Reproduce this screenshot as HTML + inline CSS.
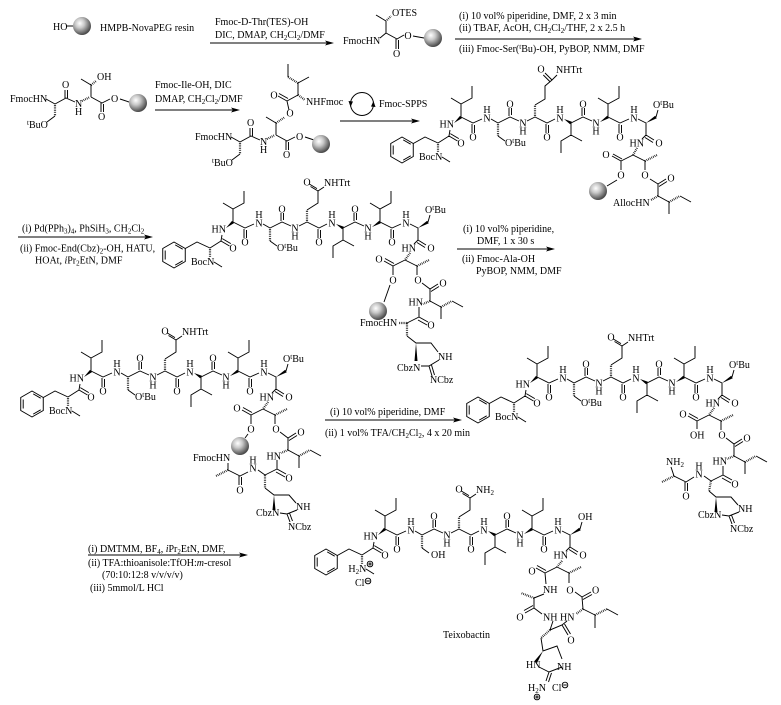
<!DOCTYPE html>
<html><head><meta charset="utf-8">
<style>
html,body{margin:0;padding:0;background:#fff;}
svg{display:block;}
text{font-family:"Liberation Serif","DejaVu Serif",serif;font-size:10px;fill:#000;}
.s,.p{font-size:7px;}
.b{stroke:#000;stroke-width:0.95;fill:none;}
.h{stroke:#000;stroke-width:2.2;stroke-dasharray:0.7 1.1;fill:none;}
.w{fill:#000;stroke:none;}
</style></head><body>
<svg width="781" height="705" viewBox="0 0 781 705" xmlns="http://www.w3.org/2000/svg">
<defs>
<radialGradient id="rg" cx="38%" cy="35%" r="65%">
<stop offset="0" stop-color="#ffffff"/><stop offset="0.4" stop-color="#c8c8c8"/><stop offset="1" stop-color="#4a4a4a"/>
</radialGradient>
<g id="ball"><circle r="9" fill="url(#rg)"/></g>
<g id="bz" class="b">
<polygon points="0,-13 11.26,-6.5 11.26,6.5 0,13 -11.26,6.5 -11.26,-6.5"/>
<path d="M1.2,-10.1 L8.7,-5.8 M8.7,5.8 L1.2,10.1 M-8.8,4.5 L-8.8,-4.5"/>
</g>
<g id="ch">
<use href="#bz" transform="translate(174,255)"/>
<path class="b" d="M185.3,248.5 L197,242 L210,248 L221,241 L222,235 M221,241 L229.5,246 M222.3,238.6 L230.8,243.6 M214,262 L222,267 M233,222 L233,209 L223,203 M233,209 L244,203 L244,191 M233,222 L245,228 L254,224 M244,229 L244,238 M246.5,230 L246.5,238 M263,224 L270,228 L282,222 L291,226 M270,241 L277,246 M281,221 L281,213 M283.5,220 L283.5,213 M299,226 L307,222 L319,228 L327,224 M318,229 L318,238 M320.5,230 L320.5,238 M343,228 L343,240 L333,246 L333,258 M343,240 L354,246 M343,228 L355,222 L364,226 M354,221 L354,213 M356.5,220 L356.5,213 M380,222 L380,209 L370,203 M380,209 L391,203 L391,191 M380,222 L392,228 L401,224 M391,229 L391,238 M393.5,230 L393.5,238 M410,224 L418,228 L418,240 L414,244 M418,240 L426,245 M417,242.5 L425,247.5 M428,222 L430,215"/>
<path class="h" d="M210,249 L210,257 M270,229 L270,241"/>
<polygon class="w" points="226,228 234,223.1 232,220.9"/>
<polygon class="w" points="336,224 342.1,229.2 343.9,226.8"/>
<polygon class="w" points="372,227 380.8,223.3 379.2,220.7"/>
<polygon class="w" points="418,228 428.8,223.3 427.2,220.7"/>
</g>
<g id="gln">
<path class="h" d="M307,221 L307,210"/>
<path class="b" d="M307,210 L318,203 L318,191 L324,187 M318,191 L310.5,186.5 M317,188.6 L309.5,184.1"/>
</g>
</defs>

<!-- ROW 1 -->
<text x="53" y="30">HO</text>
<path class="b" d="M67,26 L74,26"/>
<use href="#ball" x="82" y="26"/>
<text x="100" y="31">HMPB-NovaPEG resin</text>
<text x="215" y="25">Fmoc-D-Thr(TES)-OH</text>
<text x="215" y="38">DIC, DMAP, CH<tspan class="s" dy="2">2</tspan><tspan dy="-2">Cl</tspan><tspan class="s" dy="2">2</tspan><tspan dy="-2">/DMF</tspan></text>
<path class="b" d="M210,43 L330,43"/><polygon class="w" points="334,43 325,40.5 327,43 325,45.5"/>

<text x="343" y="44">FmocHN</text>
<path class="b" d="M376,15 L386,21 L386,33 L380,38 M386,33 L397,39 L404,35 M396,39 L396,49 M398.5,40 L398.5,49 M413,36 L424,38"/>
<path class="h" d="M387,20 L391,16"/>
<text x="392" y="16">OTES</text>
<text x="393" y="57">O</text>
<text x="404.4" y="39">O</text>
<use href="#ball" x="433" y="38"/>

<text x="459" y="19">(i) 10 vol% piperidine, DMF, 2 x 3 min</text>
<text x="459" y="31">(ii) TBAF, AcOH, CH<tspan class="s" dy="2">2</tspan><tspan dy="-2">Cl</tspan><tspan class="s" dy="2">2</tspan><tspan dy="-2">/THF, 2 x 2.5 h</tspan></text>
<path class="b" d="M455,39 L638,39"/><polygon class="w" points="642,39 633,36.5 635,39 633,41.5"/>
<text x="459" y="52">(iii) Fmoc-Ser(<tspan class="p" dy="-3">t</tspan><tspan dy="3">Bu)-OH, PyBOP, NMM, DMF</tspan></text>

<!-- ROW 2 : dipeptide -->
<text x="10" y="102">FmocHN</text>
<path class="b" d="M46,99 L55,104 L66,98 L75,102 M65,98 L65,90 M67.5,98 L67.5,90 M55,116 L47,122 M91,97 L91,85 L81,79 M91,97 L102,103 L110,99 M101,103 L101,112 M103.5,104 L103.5,112 M120,99 L129,102"/>
<path class="h" d="M55,105 L55,116 M82,101 L90,97 M91,85 L96,81"/>
<text x="62" y="88">O</text>
<text x="27" y="128"><tspan class="p" dy="-3">t</tspan><tspan dy="3">BuO</tspan></text>
<text x="75" y="107">N</text><text x="75" y="115">H</text>
<text x="97" y="80">OH</text>
<text x="98" y="120">O</text>
<text x="111" y="102">O</text>
<use href="#ball" x="138" y="103"/>

<text x="155" y="88">Fmoc-Ile-OH, DIC</text>
<text x="155" y="102">DMAP, CH<tspan class="s" dy="2">2</tspan><tspan dy="-2">Cl</tspan><tspan class="s" dy="2">2</tspan><tspan dy="-2">/DMF</tspan></text>
<path class="b" d="M155,110 L236,110"/><polygon class="w" points="240,110 231,107.5 233,110 231,112.5"/>

<!-- tripeptide -->
<g transform="translate(185,38)">
<text x="10" y="102">FmocHN</text>
<path class="b" d="M46,99 L55,104 L66,98 L75,102 M65,98 L65,90 M67.5,98 L67.5,90 M55,116 L47,122 M91,97 L91,85 L81,79 M91,97 L102,103 L110,99 M101,103 L101,112 M103.5,104 L103.5,112 M120,99 L129,102"/>
<path class="h" d="M55,105 L55,116 M82,101 L90,97"/>
<text x="62" y="88">O</text>
<text x="27" y="128"><tspan class="p" dy="-3">t</tspan><tspan dy="3">BuO</tspan></text>
<text x="75" y="107">N</text><text x="75" y="115">H</text>
<text x="98" y="120">O</text>
<text x="111" y="102">O</text>
<use href="#ball" x="136" y="106"/>
</g>
<path class="h" d="M276,123 L285,117 M298,95 L305,100 M298,83 L288,77"/>
<path class="b" d="M289,110 L287,101 L278,96 M288,98.5 L279,93.5 M287,101 L298,95 L298,83 L309,77 M288,77 L288,64"/>
<text x="286.4" y="116.5">O</text>
<text x="270.4" y="98.5">O</text>
<text x="306" y="105">NHFmoc</text>

<circle class="b" cx="362" cy="104" r="11.5"/>
<polygon class="w" points="350.5,107 348.5,101 353,101.5"/>
<polygon class="w" points="373.5,101 375.5,107 371,106.5"/>
<text x="379" y="107">Fmoc-SPPS</text>
<path class="b" d="M340,121 L416,121"/><polygon class="w" points="420,121 411,118.5 413,121 411,123.5"/>

<!-- Structure 4 (Alloc) -->
<use href="#ch" transform="translate(228,-105)"/>
<g transform="translate(228,-105)">
<text x="211.5" y="232.5">HN</text>
<text x="229.4" y="251.5">O</text>
<text x="241.4" y="245.5">O</text>
<text x="255.4" y="226.5">N</text><text x="255.4" y="218">H</text>
<text x="278.4" y="212.5">O</text>
<text x="291.4" y="231.5">N</text><text x="291.4" y="239.5">H</text>
<text x="315.4" y="245.5">O</text>
<text x="328.4" y="226.5">N</text><text x="328.4" y="218">H</text>
<text x="351.4" y="212.5">O</text>
<text x="364.4" y="231.5">N</text><text x="364.4" y="239.5">H</text>
<text x="388.4" y="245.5">O</text>
<text x="402.4" y="226.5">N</text><text x="402.4" y="218">H</text>
<text x="427.4" y="251.5">O</text>
<text x="401.5" y="251.5">HN</text>
<text x="191" y="265">BocN</text>
<text x="277" y="251">O<tspan class="p" dy="-3">t</tspan><tspan dy="3">Bu</tspan></text>
<text x="425" y="213">O<tspan class="p" dy="-3">t</tspan><tspan dy="3">Bu</tspan></text>
</g>
<path class="h" d="M535,116 L535,105"/>
<path class="b" d="M535,105 L545,99 L545,86 L552,80 L557,75 M552,80 L545,73 M550.3,82 L543.3,75"/>
<text x="537.4" y="72.5">O</text>
<text x="556" y="73">NHTrt</text>
<path class="h" d="M637,148 L633,155 M645,161 L657,155 M658,196 L651,200 M669,202 L680,196"/>
<path class="b" d="M633,155 L621,161 L612,156 M622,159 L613,154 M621,161 L621,170 M617,180 L607,186 M633,155 L645,161 L645,170 M650,179 L658,184 L666,179 M659,186.5 L667,181.5 M658,184 L658,196 L669,202 L669,214 M680,196 L691,202"/>
<text x="602.4" y="158">O</text>
<text x="617.4" y="178.5">O</text>
<use href="#ball" x="598" y="191"/>
<text x="641.4" y="178.5">O</text>
<text x="667.4" y="181.5">O</text>
<text x="613" y="206">AllocHN</text>

<!-- ROW 3 reagents left -->
<text x="22" y="231.5">(i) Pd(PPh<tspan class="s" dy="2">3</tspan><tspan dy="-2">)</tspan><tspan class="s" dy="2">4</tspan><tspan dy="-2">, PhSiH</tspan><tspan class="s" dy="2">3</tspan><tspan dy="-2">, CH</tspan><tspan class="s" dy="2">2</tspan><tspan dy="-2">Cl</tspan><tspan class="s" dy="2">2</tspan></text>
<path class="b" d="M18,237 L149,237"/><polygon class="w" points="153,237 144,234.5 146,237 144,239.5"/>
<text x="20" y="251.5">(ii) Fmoc-End(Cbz)<tspan class="s" dy="2">2</tspan><tspan dy="-2">-OH, HATU,</tspan></text>
<text x="35" y="263.5">HOAt, <tspan font-style="italic">i</tspan>Pr<tspan class="s" dy="2">2</tspan><tspan dy="-2">EtN, DMF</tspan></text>

<!-- Structure 5 -->
<use href="#ch"/><use href="#gln"/>
<g>
<text x="211.5" y="232.5">HN</text>
<text x="229.4" y="251.5">O</text>
<text x="241.4" y="245.5">O</text>
<text x="255.4" y="226.5">N</text><text x="255.4" y="218">H</text>
<text x="278.4" y="212.5">O</text>
<text x="291.4" y="231.5">N</text><text x="291.4" y="239.5">H</text>
<text x="315.4" y="245.5">O</text>
<text x="328.4" y="226.5">N</text><text x="328.4" y="218">H</text>
<text x="351.4" y="212.5">O</text>
<text x="364.4" y="231.5">N</text><text x="364.4" y="239.5">H</text>
<text x="388.4" y="245.5">O</text>
<text x="402.4" y="226.5">N</text><text x="402.4" y="218">H</text>
<text x="427.4" y="251.5">O</text>
<text x="401.5" y="251.5">HN</text>
<text x="191" y="265">BocN</text>
<text x="277" y="251">O<tspan class="p" dy="-3">t</tspan><tspan dy="3">Bu</tspan></text>
<text x="425" y="213">O<tspan class="p" dy="-3">t</tspan><tspan dy="3">Bu</tspan></text>
<text x="303.4" y="185.5">O</text>
<text x="324" y="186">NHTrt</text>
</g>
<path class="h" d="M410,253 L405,260 M417,266 L429,260 M430,301 L423,304 M441,307 L452,301 M407,323 L398,323 M407,323 L407,336"/>
<path class="b" d="M405,260 L393,266 L384,261 M394,263.5 L385,258.5 M393,266 L393,275 M390,285 L384,302 M405,260 L417,266 L417,275 M422,283 L430,289 L438,284 M431,291.5 L439,286.5 M430,289 L430,301 L441,307 L441,319 M452,301 L463,307 M419,307 L419,317 L428,322 M418,320 L427,325 M419,317 L407,323 M407,336 L416,343 L431,343 L438,352 M439,360 L429,366 L421,366 M429,366 L432,376 M431.5,365 L434.5,375"/>
<polygon class="w" points="416,343 414.5,361 417.5,361"/>
<text x="375.4" y="262.5">O</text>
<text x="389.4" y="283.5">O</text>
<use href="#ball" x="378" y="311"/>
<text x="414.4" y="283.5">O</text>
<text x="439.4" y="286.5">O</text>
<text x="408.5" y="305.5">HN</text>
<text x="427.4" y="328.5">O</text>
<text x="360" y="326">FmocHN</text>
<text x="438" y="360">NH</text>
<text x="397" y="371">CbzN</text>
<text x="430" y="383">NCbz</text>

<!-- ROW 3 reagents right -->
<text x="463" y="232">(i) 10 vol% piperidine,</text>
<text x="477" y="244">DMF, 1 x 30 s</text>
<path class="b" d="M457,249 L551,249"/><polygon class="w" points="555,249 546,246.5 548,249 546,251.5"/>
<text x="462" y="262">(ii) Fmoc-Ala-OH</text>
<text x="476" y="274">PyBOP, NMM, DMF</text>

<!-- Structure 6 -->
<use href="#ch" transform="translate(-142,149)"/>
<use href="#gln" transform="translate(-142,149)"/>
<g transform="translate(-142,149)">
<text x="211.5" y="232.5">HN</text>
<text x="229.4" y="251.5">O</text>
<text x="241.4" y="245.5">O</text>
<text x="255.4" y="226.5">N</text><text x="255.4" y="218">H</text>
<text x="278.4" y="212.5">O</text>
<text x="291.4" y="231.5">N</text><text x="291.4" y="239.5">H</text>
<text x="315.4" y="245.5">O</text>
<text x="328.4" y="226.5">N</text><text x="328.4" y="218">H</text>
<text x="351.4" y="212.5">O</text>
<text x="364.4" y="231.5">N</text><text x="364.4" y="239.5">H</text>
<text x="388.4" y="245.5">O</text>
<text x="402.4" y="226.5">N</text><text x="402.4" y="218">H</text>
<text x="427.4" y="251.5">O</text>
<text x="401.5" y="251.5">HN</text>
<text x="191" y="265">BocN</text>
<text x="277" y="251">O<tspan class="p" dy="-3">t</tspan><tspan dy="3">Bu</tspan></text>
<text x="425" y="213">O<tspan class="p" dy="-3">t</tspan><tspan dy="3">Bu</tspan></text>
<text x="303.4" y="185.5">O</text>
<text x="324" y="186">NHTrt</text>
</g>
<path class="h" d="M268,402 L263,409 M275,415 L287,409 M288,450 L281,453 M299,456 L310,450 M228,470 L216,476 M265,475 L265,488"/>
<path class="b" d="M263,409 L251,415 L242,410 M252,412.5 L243,407.5 M251,415 L251,424 M248,434 L245,438 M263,409 L275,415 L275,424 M280,432 L288,438 L296,433 M289,440.5 L297,435.5 M288,438 L288,450 L299,456 L299,468 M310,450 L321,456 M277,460 L277,469 L286,474 M276,472 L285,477 M277,469 L265,475 L258,470 M248,472 L240,476 L228,470 L228,463 M239,476 L239,485 M241.5,477 L241.5,485 M265,488 L274,495 L289,495 L296,503 M297,510 L287,514 L280,513 M287,514 L290,522 M289.5,513 L292.5,521"/>
<polygon class="w" points="274,495 272.5,510 275.5,510"/>
<text x="233.4" y="411.5">O</text>
<text x="247.4" y="432.5">O</text>
<use href="#ball" x="240" y="446"/>
<text x="272.4" y="432.5">O</text>
<text x="297.4" y="435.5">O</text>
<text x="266.5" y="459.5">HN</text>
<text x="285.4" y="481.5">O</text>
<text x="249.4" y="471.5">N</text><text x="249.4" y="463.5">H</text>
<text x="236.4" y="493.5">O</text>
<text x="193" y="461">FmocHN</text>
<text x="296" y="510">NH</text>
<text x="256" y="516">CbzN</text>
<text x="288" y="530">NCbz</text>

<!-- ROW 4 reagents -->
<text x="330" y="415">(i) 10 vol% piperidine, DMF</text>
<path class="b" d="M325,420 L458,420"/><polygon class="w" points="462,420 453,417.5 455,420 453,422.5"/>
<text x="325" y="436">(ii) 1 vol% TFA/CH<tspan class="s" dy="2">2</tspan><tspan dy="-2">Cl</tspan><tspan class="s" dy="2">2</tspan><tspan dy="-2">,  4 x 20 min</tspan></text>

<!-- Structure 7 -->
<use href="#ch" transform="translate(304,155)"/>
<use href="#gln" transform="translate(304,155)"/>
<g transform="translate(304,155)">
<text x="211.5" y="232.5">HN</text>
<text x="229.4" y="251.5">O</text>
<text x="241.4" y="245.5">O</text>
<text x="255.4" y="226.5">N</text><text x="255.4" y="218">H</text>
<text x="278.4" y="212.5">O</text>
<text x="291.4" y="231.5">N</text><text x="291.4" y="239.5">H</text>
<text x="315.4" y="245.5">O</text>
<text x="328.4" y="226.5">N</text><text x="328.4" y="218">H</text>
<text x="351.4" y="212.5">O</text>
<text x="364.4" y="231.5">N</text><text x="364.4" y="239.5">H</text>
<text x="388.4" y="245.5">O</text>
<text x="402.4" y="226.5">N</text><text x="402.4" y="218">H</text>
<text x="427.4" y="251.5">O</text>
<text x="401.5" y="251.5">HN</text>
<text x="191" y="265">BocN</text>
<text x="277" y="251">O<tspan class="p" dy="-3">t</tspan><tspan dy="3">Bu</tspan></text>
<text x="425" y="213">O<tspan class="p" dy="-3">t</tspan><tspan dy="3">Bu</tspan></text>
<text x="303.4" y="185.5">O</text>
<text x="324" y="186">NHTrt</text>
</g>
<path class="h" d="M714,408 L709,415 M721,421 L733,415 M734,456 L727,459 M745,462 L756,456 M674,476 L662,482 M711,481 L709,491"/>
<path class="b" d="M709,415 L697,421 L688,416 M698,418.5 L689,413.5 M697,421 L697,429 M709,415 L721,421 L721,430 M726,438 L734,444 L742,439 M735,446.5 L743,441.5 M734,444 L734,456 L745,462 L745,474 M756,456 L767,462 M723,466 L723,475 L732,480 M722,478 L731,483 M723,475 L711,481 L704,476 M694,477 L686,482 L674,476 L671,467 M685,482 L685,491 M687.5,483 L687.5,491 M709,491 L716,497 L731,497 L738,505 M739,512 L729,516 L722,515 M729,516 L732,524 M731.5,515 L734.5,523"/>
<polygon class="w" points="716,497 714.5,512 717.5,512"/>
<text x="679.4" y="417.5">O</text>
<text x="690" y="438.5">OH</text>
<text x="718.4" y="438.5">O</text>
<text x="743.4" y="441.5">O</text>
<text x="712.5" y="464.5">HN</text>
<text x="731.4" y="487.5">O</text>
<text x="695.4" y="477.5">N</text><text x="695.4" y="469.5">H</text>
<text x="682.4" y="499.5">O</text>
<text x="666" y="465">NH<tspan class="s" dy="2">2</tspan></text>
<text x="738" y="512">NH</text>
<text x="698" y="518">CbzN</text>
<text x="730" y="532">NCbz</text>

<!-- ROW 5 reagents -->
<text x="88" y="552">(i) DMTMM, BF<tspan class="s" dy="2">4</tspan><tspan dy="-2">,  </tspan><tspan font-style="italic">i</tspan>Pr<tspan class="s" dy="2">2</tspan><tspan dy="-2">EtN, DMF,</tspan></text>
<path class="b" d="M88,555 L244,555"/><polygon class="w" points="248,555 239,552.5 241,555 239,557.5"/>
<text x="88" y="566">(ii) TFA:thioanisole:TfOH:<tspan font-style="italic">m</tspan>-cresol</text>
<text x="102" y="578">(70:10:12:8 v/v/v/v)</text>
<text x="90" y="591">(iii) 5mmol/L HCl</text>

<!-- Teixobactin -->
<use href="#ch" transform="translate(152,307)"/>
<use href="#gln" transform="translate(152,307)"/>
<g transform="translate(152,307)">
<text x="211.5" y="232.5">HN</text>
<text x="229.4" y="251.5">O</text>
<text x="241.4" y="245.5">O</text>
<text x="255.4" y="226.5">N</text><text x="255.4" y="218">H</text>
<text x="278.4" y="212.5">O</text>
<text x="291.4" y="231.5">N</text><text x="291.4" y="239.5">H</text>
<text x="315.4" y="245.5">O</text>
<text x="328.4" y="226.5">N</text><text x="328.4" y="218">H</text>
<text x="351.4" y="212.5">O</text>
<text x="364.4" y="231.5">N</text><text x="364.4" y="239.5">H</text>
<text x="388.4" y="245.5">O</text>
<text x="402.4" y="226.5">N</text><text x="402.4" y="218">H</text>
<text x="427.4" y="251.5">O</text>
<text x="401.5" y="251.5">HN</text>
<text x="196.4" y="265">H<tspan class="s" dy="2">2</tspan><tspan dy="-2">N</tspan></text>
<circle class="b" cx="218" cy="257" r="2.8" stroke-width="0.6"/>
<path class="b" stroke-width="0.6" d="M216.2,257 L219.8,257 M218,255.2 L218,258.8"/>
<text x="203" y="279">Cl</text>
<circle class="b" cx="216" cy="274" r="2.8" stroke-width="0.6"/>
<path class="b" stroke-width="0.6" d="M214.2,274 L217.8,274"/>
<text x="279" y="251">OH</text>
<text x="426" y="213">OH</text>
<text x="303.4" y="185.5">O</text>
<text x="324" y="186">NH<tspan class="s" dy="2">2</tspan></text>
</g>
<path class="h" d="M562,561 L557,567 M569,573 L581,567 M583,609 L576,614 M595,615 L607,609 M534,598 L521,593 M550,630 L541,638"/>
<path class="b" d="M557,567 L545,573 L536,568 M546,570.5 L537,565.5 M545,573 L546,584 M557,567 L569,573 L569,583 M575,592 L582,597 L591,592 M583,599.5 L592,594.5 M582,597 L583,609 L595,615 L595,628 M607,609 L618,615 M544,594 L534,598 L534,608 L542,614 M534,608 L525,613 M533,605.5 L524,610.5 M553,621 L550,630 L562,625 L567,621 M562,625 L568,635 M564.5,624 L570.5,634 M541,638 L543,651 L557,646 L562,659 M562,667 L549,672 L539,667 M549,672 L546,681 M551.5,673 L548.5,682"/>
<polygon class="w" points="543,651 534.5,661 537,663"/>
<text x="528.4" y="574.5">O</text>
<text x="543" y="593">NH</text>
<text x="566.4" y="593.5">O</text>
<text x="592" y="593.5">O</text>
<text x="560" y="620.5">HN</text>
<text x="516.4" y="620.5">O</text>
<text x="543" y="620.5">NH</text>
<text x="567.4" y="643.5">O</text>
<text x="557" y="670">NH</text>
<text x="526" y="668">HN</text>
<text x="528" y="691">H<tspan class="s" dy="2">2</tspan><tspan dy="-2">N</tspan></text>
<circle class="b" cx="537" cy="697" r="2.8" stroke-width="0.6"/>
<path class="b" stroke-width="0.6" d="M535.2,697 L538.8,697 M537,695.2 L537,698.8"/>
<text x="552" y="691">Cl</text>
<circle class="b" cx="565" cy="685" r="2.8" stroke-width="0.6"/>
<path class="b" stroke-width="0.6" d="M563.2,685 L566.8,685"/>
<text x="443" y="638">Teixobactin</text>
</svg>
</body></html>
